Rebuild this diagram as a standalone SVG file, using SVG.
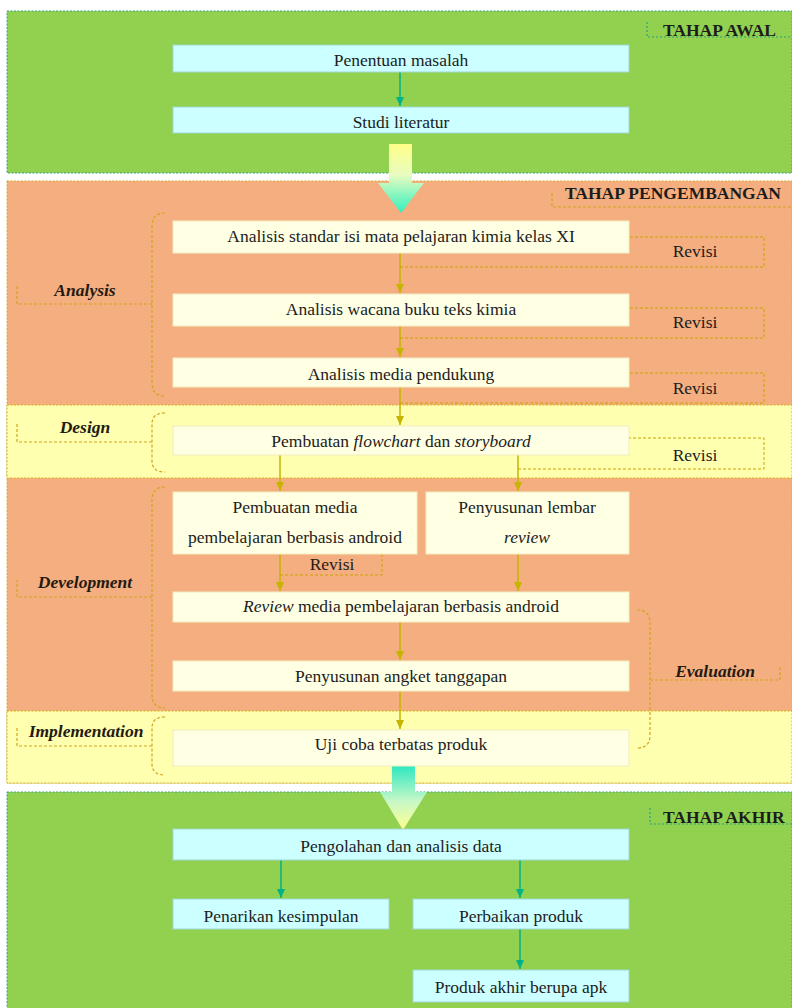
<svg xmlns="http://www.w3.org/2000/svg" width="792" height="1008" viewBox="0 0 792 1008" font-family="'Liberation Serif', 'DejaVu Serif', 'Noto Serif', serif">
<style>
text{font-family:'Liberation Serif','DejaVu Serif','Noto Serif',serif;font-size:17.5px;fill:#1c1c1c}
.c{text-anchor:middle}
.lbl{font-weight:bold;font-style:italic;text-anchor:middle;fill:#231a12}
.tahap{font-weight:bold;fill:#1c1c1c}
.i{font-style:italic}
.cy{fill:#CCFFFF;stroke:#9ED9D6;stroke-width:1}
.iv{fill:#FFFFE4;stroke:#F0EEC0;stroke-width:1}
.gl{fill:none;stroke:#00B386;stroke-width:1.5}
.ol{fill:none;stroke:#C6B400;stroke-width:1.5}
.rv{fill:none;stroke:#C9A400;stroke-width:1;stroke-dasharray:3 2}
.br{fill:none;stroke:#D2A41C;stroke-width:1.2;stroke-dasharray:3 2}
.gbr{fill:none;stroke:#2FA07A;stroke-width:1.2;stroke-dasharray:2 2}
</style>
<defs>
<marker id="mt" markerWidth="10" markerHeight="8" refX="9" refY="4" orient="auto" markerUnits="userSpaceOnUse"><path d="M0,0 L9,4 L0,8 z" fill="#00B386"/></marker>
<marker id="mo" markerWidth="10" markerHeight="8" refX="9" refY="4" orient="auto" markerUnits="userSpaceOnUse"><path d="M0,0 L9,4 L0,8 z" fill="#C6B400"/></marker>
<linearGradient id="g1" x1="0" y1="0" x2="0" y2="1"><stop offset="0" stop-color="#FFFF88"/><stop offset="0.45" stop-color="#E8FCC0"/><stop offset="1" stop-color="#2EF0BE"/></linearGradient>
<linearGradient id="g2" x1="0" y1="0" x2="0" y2="1"><stop offset="0" stop-color="#2EE8C0"/><stop offset="0.55" stop-color="#C8F8C8"/><stop offset="1" stop-color="#FFFF90"/></linearGradient>
</defs>

<g id="panels">
<rect x="7" y="11" width="785" height="162" fill="#92D050" stroke="#3AA57C" stroke-width="1" stroke-dasharray="2 1.5"/>
<rect x="7" y="181" width="785" height="602" fill="#F4AE80" stroke="#D4AE30" stroke-width="1" stroke-dasharray="2 1.5"/>
<rect x="7" y="405" width="785" height="73" fill="#FFFFB0" stroke="#D4B020" stroke-width="1" stroke-dasharray="2 1.5"/>
<rect x="7" y="711" width="785" height="72" fill="#FFFFB0" stroke="#D4B020" stroke-width="1" stroke-dasharray="2 1.5"/>
<rect x="7" y="792" width="785" height="220" fill="#92D050" stroke="#3AA57C" stroke-width="1" stroke-dasharray="2 1.5"/>
</g>

<g id="stage-labels">
<path class="gbr" d="M647,22 V37 H792"/>
<text class="tahap" x="663" y="36">TAHAP AWAL</text>
<path class="br" d="M552,193 V207 H792"/>
<text class="tahap" x="565" y="199">TAHAP PENGEMBANGAN</text>
<path class="gbr" d="M650,808 V824 H792"/>
<text class="tahap" x="663" y="823">TAHAP AKHIR</text>
</g>

<g id="phase-brackets">
<path class="br" d="M165,213 Q152,213 152,226 V383 Q152,396 165,396 M152,304 H17 V285"/>
<text class="lbl" x="85" y="296">Analysis</text>
<path class="br" d="M165,413 Q152,413 152,424 V461 Q152,472 165,472 M152,442 H17 V423"/>
<text class="lbl" x="85" y="433">Design</text>
<path class="br" d="M165,487 Q152,487 152,500 V695 Q152,708 165,708 M152,597 H17 V580"/>
<text class="lbl" x="85" y="588">Development</text>
<path class="br" d="M165,717 Q152,717 152,728 V764 Q152,775 165,775 M152,746 H17 V728"/>
<text class="lbl" x="86" y="737">Implementation</text>
<path class="br" d="M637,610 Q650,610 650,623 V735 Q650,748 637,748 M650,680 H780 V665"/>
<text class="lbl" x="715" y="677">Evaluation</text>
</g>

<g id="big-arrows">
<path d="M389,144 H412 V183 H424 L401,213 L378,183 H389 Z" fill="url(#g1)"/>
<path d="M392,766 H415 V792 H427 L403,830 L380,792 H392 Z" fill="url(#g2)"/>
</g>

<g id="connectors">
<path class="gl" d="M400,72 V106" marker-end="url(#mt)"/>
<path class="gl" d="M281,860 V898" marker-end="url(#mt)"/>
<path class="gl" d="M520,860 V898" marker-end="url(#mt)"/>
<path class="gl" d="M520,929 V969" marker-end="url(#mt)"/>
<path class="ol" d="M400,253 V293" marker-end="url(#mo)"/>
<path class="ol" d="M400,326 V357" marker-end="url(#mo)"/>
<path class="ol" d="M400,387 V425" marker-end="url(#mo)"/>
<path class="ol" d="M280,455 V491" marker-end="url(#mo)"/>
<path class="ol" d="M518,455 V491" marker-end="url(#mo)"/>
<path class="ol" d="M280,554 V591" marker-end="url(#mo)"/>
<path class="ol" d="M518,554 V591" marker-end="url(#mo)"/>
<path class="ol" d="M400,622 V660" marker-end="url(#mo)"/>
<path class="ol" d="M400,691 V729" marker-end="url(#mo)"/>
<path class="rv" d="M400,267 H764 V237 H629"/>
<path class="rv" d="M400,338 H764 V308 H629"/>
<path class="rv" d="M400,403 H764 V373 H629"/>
<path class="rv" d="M518,469 H764 V438 H629"/>
<path class="rv" d="M280,575 H382 V554"/>
</g>

<g id="revisi-labels">
<text class="c" x="695" y="257">Revisi</text>
<text class="c" x="695" y="328">Revisi</text>
<text class="c" x="695" y="394">Revisi</text>
<text class="c" x="695" y="461">Revisi</text>
<text class="c" x="332" y="570">Revisi</text>
</g>

<g id="n-penentuan"><rect class="cy" x="173" y="45" width="456" height="27"/><text class="c" x="401" y="66">Penentuan masalah</text></g>
<g id="n-studi"><rect class="cy" x="173" y="107" width="456" height="26"/><text class="c" x="401" y="128">Studi literatur</text></g>

<g id="n-analisis-standar"><rect class="iv" x="173" y="221" width="456" height="32"/><text class="c" x="401" y="242">Analisis standar isi mata pelajaran kimia kelas XI</text></g>
<g id="n-analisis-wacana"><rect class="iv" x="173" y="294" width="456" height="32"/><text class="c" x="401" y="315">Analisis wacana buku teks kimia</text></g>
<g id="n-analisis-media"><rect class="iv" x="173" y="358" width="456" height="29"/><text class="c" x="401" y="380">Analisis media pendukung</text></g>
<g id="n-flowchart"><rect class="iv" x="173" y="426" width="456" height="29"/><text class="c" x="401" y="447">Pembuatan <tspan class="i">flowchart</tspan> dan <tspan class="i">storyboard</tspan></text></g>
<g id="n-pembuatan-media"><rect class="iv" x="173" y="492" width="244" height="62"/><text class="c" x="295" y="513">Pembuatan media</text><text class="c" x="295" y="543">pembelajaran berbasis android</text></g>
<g id="n-lembar-review"><rect class="iv" x="426" y="492" width="203" height="62"/><text class="c" x="527" y="513">Penyusunan lembar</text><text class="c i" x="527" y="543">review</text></g>
<g id="n-review"><rect class="iv" x="173" y="592" width="456" height="30"/><text class="c" x="401" y="612"><tspan class="i">Review</tspan> media pembelajaran berbasis android</text></g>
<g id="n-angket"><rect class="iv" x="173" y="661" width="456" height="30"/><text class="c" x="401" y="682">Penyusunan angket tanggapan</text></g>
<g id="n-uji"><rect class="iv" x="173" y="730" width="456" height="36"/><text class="c" x="401" y="750">Uji coba terbatas produk</text></g>

<g id="n-pengolahan"><rect class="cy" x="173" y="829" width="456" height="31"/><text class="c" x="401" y="852">Pengolahan dan analisis data</text></g>
<g id="n-penarikan"><rect class="cy" x="173" y="899" width="216" height="30"/><text class="c" x="281" y="922">Penarikan kesimpulan</text></g>
<g id="n-perbaikan"><rect class="cy" x="413" y="899" width="216" height="30"/><text class="c" x="521" y="922">Perbaikan produk</text></g>
<g id="n-produk-akhir"><rect class="cy" x="413" y="970" width="216" height="32"/><text class="c" x="521" y="993">Produk akhir berupa apk</text></g>
</svg>
